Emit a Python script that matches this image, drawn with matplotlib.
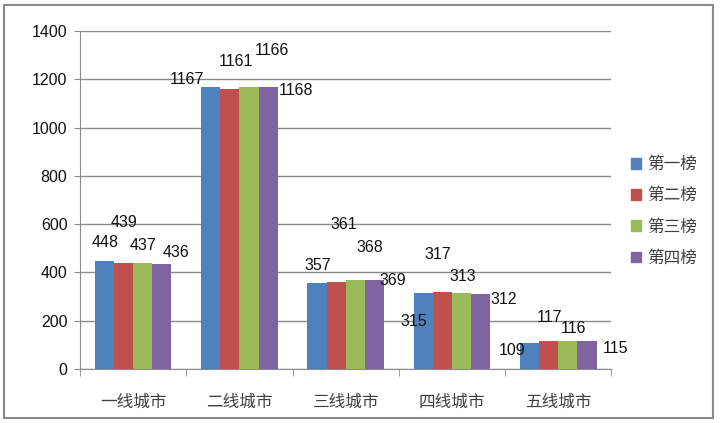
import matplotlib
matplotlib.use("Agg")
import matplotlib.pyplot as plt
import numpy as np
from matplotlib.patches import Patch, Rectangle

plt.rcParams["font.family"] = ["Liberation Sans", "Noto Sans CJK SC", "DejaVu Sans"]

categories = ["一线城市", "二线城市", "三线城市", "四线城市", "五线城市"]
series_names = ["第一榜", "第二榜", "第三榜", "第四榜"]
bang1 = [448, 1167, 357, 315, 109]
bang2 = [439, 1161, 361, 317, 117]
bang3 = [437, 1166, 368, 313, 116]
bang4 = [436, 1168, 369, 312, 115]
colors = ["#4F81BD", "#C0504D", "#9BBB59", "#8064A2"]

# label offsets in pixels (dx, dy) from each bar top, mimicking the original scatter
lbl_dx = [
    [1, -24, 1, -10, -18],
    [0, 6, 8, -5, 1],
    [0, 23, 15, 1, 6],
    [14, 28, 18, 23, 28],
]
lbl_dy = [
    [18, 8, 17, -29, -8],
    [41, 27, 57, 38, 23],
    [18, 37, 33, 17, 12],
    [11, -3, -1, -6, -7],
]

fig = plt.figure(figsize=(7.2, 4.23), dpi=100)
ax = fig.add_axes([0.1111, 0.1277, 0.7382, 0.799])

x = np.arange(len(categories))
w = 0.18
all_series = [bang1, bang2, bang3, bang4]
for i, vals in enumerate(all_series):
    xs = x + (i - 1.5) * w
    ax.bar(xs, vals, width=w, color=colors[i], zorder=3)
    for j, v in enumerate(vals):
        ax.annotate(str(v), (xs[j], v), xytext=(lbl_dx[i][j], lbl_dy[i][j]),
                    textcoords="offset pixels", ha="center", va="center",
                    fontsize=11.5, color="#111111", zorder=5)

ax.set_xlim(-0.5, len(categories) - 0.5)
ax.set_ylim(0, 1400)
ax.set_yticks(np.arange(0, 1401, 200))
ax.grid(axis="y", color="#8a8a8a", lw=1, zorder=0)
for s in ["top", "right"]:
    ax.spines[s].set_visible(False)
ax.spines["left"].set_color("#8a8a8a")
ax.spines["bottom"].set_color("#8a8a8a")
ax.tick_params(axis="y", length=4, color="#8a8a8a", labelsize=11.5, pad=5, labelcolor="#111111")

ax.set_xticks(x)
ax.set_xticklabels(categories, fontsize=12, color="#404040", family=["Noto Sans CJK SC"])
ax.tick_params(axis="x", which="major", length=0, pad=18)
ax.set_xticks(np.arange(-0.5, len(categories)), minor=True)
ax.tick_params(axis="x", which="minor", length=5, color="#8a8a8a")

handles = [Patch(color=c) for c in colors]
leg = fig.legend(handles, series_names, loc="center left", bbox_to_anchor=(0.855, 0.50),
                 frameon=False, handlelength=0.6, handleheight=0.6, handletextpad=0.4,
                 labelspacing=0.85, prop={"family": "Noto Sans CJK SC", "size": 12})
for t in leg.get_texts():
    t.set_color("#404040")

fig.patches.append(Rectangle((0.006, 0.012), 0.984, 0.976, transform=fig.transFigure,
                             fill=False, edgecolor="#8a8a8a", lw=1.5))

fig.savefig("out.png", dpi=100)
